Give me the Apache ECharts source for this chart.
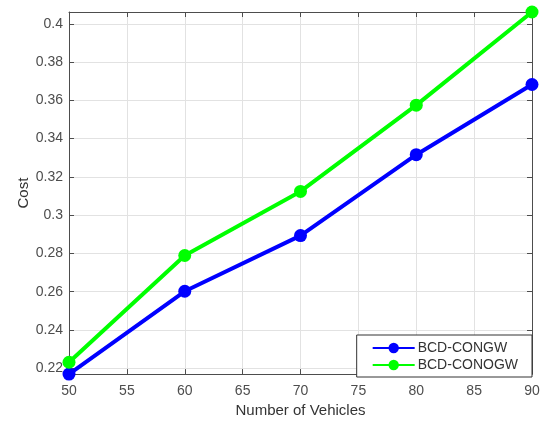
<!DOCTYPE html>
<html>
<head>
<meta charset="utf-8">
<script src="https://cdn.jsdelivr.net/npm/echarts@6/dist/echarts.min.js"></script>
<style>
html,body{margin:0;padding:0;background:#fff;}
#main{width:550px;height:423px;}
</style>
</head>
<body>
<div id="main"></div>
<script>
// 车辆数
const vehicles = [50, 60, 70, 80, 90];
const congw = [0.2169, 0.2602, 0.2893, 0.3316, 0.3683];
const conogw = [0.2231, 0.2789, 0.3124, 0.3575, 0.4062];
const yTicks = [0.22, 0.24, 0.26, 0.28, 0.3, 0.32, 0.34, 0.36, 0.38, 0.4];
const yMin = 0.2169, yMax = 0.4062;

const FONT = 'Liberation Sans';
const AX = '#4d4d4d';

function pair(xs, ys){
	return xs.map(function(x, i){ return [x, ys[i]]; });
}

let myChart = echarts.init(document.getElementById('main'));
let yBase = {
	type: 'value', min: yMin, max: yMax,
	axisLine: {show: true, onZero: false, lineStyle: {color: AX, width: 1}},
	axisTick: {show: true, inside: true, length: 5, customValues: yTicks, lineStyle: {color: AX}},
	splitLine: {show: false}
};
let option = {
	animation: false,
	grid: {left: 69, right: 18, top: 12, bottom: 45},
	xAxis: [{
		type: 'value', min: 50, max: 90, interval: 5,
		name: 'Number of Vehicles', nameLocation: 'middle', nameGap: 28,
		nameTextStyle: {fontFamily: FONT, fontSize: 15, color: '#333'},
		axisLine: {show: true, onZero: false, lineStyle: {color: AX}},
		axisTick: {show: true, inside: true, length: 5, lineStyle: {color: AX}},
		axisLabel: {fontFamily: FONT, fontSize: 14, color: AX, margin: 10},
		splitLine: {show: true, lineStyle: {color: '#e2e2e2', width: 1}}
	}, {
		type: 'value', min: 50, max: 90, interval: 5, position: 'top',
		axisLine: {show: true, onZero: false, lineStyle: {color: AX}},
		axisTick: {show: true, inside: true, length: 5, lineStyle: {color: AX}},
		axisLabel: {show: false}, splitLine: {show: false}
	}],
	yAxis: [Object.assign({}, yBase, {
		name: 'Cost', nameLocation: 'middle', nameGap: 38, nameRotate: 90,
		nameMoveOverlap: false,
		nameTextStyle: {fontFamily: FONT, fontSize: 15, color: '#333'},
		axisLabel: {fontFamily: FONT, fontSize: 14, color: AX, margin: 6, customValues: yTicks,
			formatter: function(v){ return String(+v.toFixed(2)); }},
		splitLine: {show: true, lineStyle: {color: '#e2e2e2', width: 1}}
	}), Object.assign({}, yBase, {
		position: 'right', axisLabel: {show: false}
	})],
	legend: {
		right: 18, bottom: 46, orient: 'vertical',
		itemWidth: 42, itemHeight: 13, itemGap: 3,
		padding: [6, 14, 5, 15],
		backgroundColor: '#fff', borderColor: '#333', borderWidth: 1,
		textStyle: {fontFamily: FONT, fontSize: 14, color: '#333', padding: [0, 0, 0, -2]},
		data: ['BCD-CONGW', 'BCD-CONOGW']
	},
	series: [{
		name: 'BCD-CONGW', type: 'line', data: pair(vehicles, congw),
		symbol: 'circle', symbolSize: 13,
		lineStyle: {color: '#0000ff', width: 4}, itemStyle: {color: '#0000ff'}
	}, {
		name: 'BCD-CONOGW', type: 'line', data: pair(vehicles, conogw),
		symbol: 'circle', symbolSize: 13,
		lineStyle: {color: '#00ff00', width: 4}, itemStyle: {color: '#00ff00'}
	}]
};
myChart.setOption(option);
</script>
</body>
</html>
